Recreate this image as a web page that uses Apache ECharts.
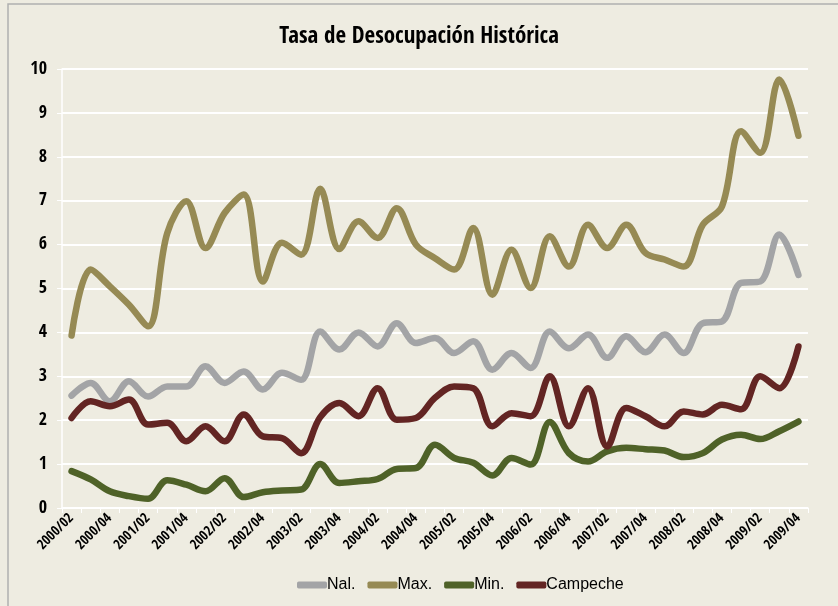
<!DOCTYPE html>
<html>
<head>
<meta charset="utf-8">
<script src="https://cdn.jsdelivr.net/npm/echarts@6/dist/echarts.min.js"></script>
<style>
html,body{margin:0;padding:0;background:#EEECE1;}
#c{width:838px;height:606px;}
</style>
</head>
<body>
<div id="c"></div>
<script>
const categories = ['2000/02','2000/03','2000/04','2001/01','2001/02','2001/03','2001/04','2002/01','2002/02','2002/03','2002/04','2003/01','2003/02','2003/03','2003/04','2004/01','2004/02','2004/03','2004/04','2005/01','2005/02','2005/03','2005/04','2006/01','2006/02','2006/03','2006/04','2007/01','2007/02','2007/03','2007/04','2008/01','2008/02','2008/03','2008/04','2009/01','2009/02','2009/03','2009/04'];
const nal = [2.56,2.85,2.43,2.89,2.54,2.77,2.77,3.23,2.85,3.11,2.70,3.08,2.92,4.02,3.61,4.00,3.68,4.21,3.76,3.87,3.53,3.80,3.15,3.53,3.19,4.02,3.64,3.95,3.42,3.91,3.55,3.95,3.53,4.21,4.25,5.13,5.16,6.23,5.31];
const maxv = [3.93,5.43,5.05,4.63,4.14,6.26,6.99,5.92,6.72,7.14,5.16,6.04,5.77,7.27,5.90,6.53,6.15,6.83,6.00,5.69,5.43,6.38,4.86,5.88,5.01,6.19,5.50,6.45,5.92,6.45,5.81,5.66,5.50,6.45,6.87,8.58,8.09,9.76,8.48];
const minv = [0.84,0.65,0.38,0.27,0.21,0.63,0.53,0.38,0.68,0.25,0.36,0.40,0.42,1.00,0.57,0.61,0.66,0.89,0.91,1.44,1.14,1.03,0.74,1.14,0.99,1.96,1.25,1.06,1.29,1.37,1.34,1.31,1.16,1.25,1.56,1.67,1.57,1.75,1.97];
const campeche = [2.05,2.43,2.32,2.47,1.90,1.94,1.52,1.86,1.52,2.13,1.63,1.59,1.25,2.07,2.39,2.09,2.73,2.01,2.05,2.51,2.77,2.73,1.86,2.16,2.09,3.00,1.86,2.73,1.40,2.28,2.09,1.86,2.20,2.13,2.35,2.25,3.00,2.73,3.68];
const seriesNames = ['Nal.','Max.','Min.','Campeche'];
const colors = ['#A3A4A6','#968A54','#4F6228','#632523'];

const chart = echarts.init(document.getElementById('c'), null, {renderer:'canvas'});
const font = "'Liberation Sans Narrow','Open Sans Condensed','Liberation Sans',sans-serif";
const legendFont = "'Liberation Sans',sans-serif";
const datas = [nal, maxv, minv, campeche];
chart.setOption({
  backgroundColor:'#EEECE1',
  animation:false,
  title:{text:'Tasa de Desocupación Histórica', left:'center', top:20,
    textStyle:{fontFamily:font, fontSize:23, fontWeight:'bold', color:'#000'}},
  graphic:[{type:'rect', shape:{x:8,y:4,width:900,height:700}, style:{fill:'none', stroke:'#B0B0B0', lineWidth:1.5}, silent:true}],
  grid:{left:62, right:30, top:69, bottom:98},
  legend:{bottom:8, left:292, itemWidth:30, itemHeight:7, itemGap:12,
    data:seriesNames.map(n=>({name:n, icon:'roundRect'})),
    textStyle:{fontFamily:legendFont, fontSize:16, fontWeight:'normal', color:'#000', padding:[0,0,0,-5]}},
  xAxis:{type:'category', data:categories, boundaryGap:true,
    axisLine:{lineStyle:{color:'#FFFFFF', width:1.5}},
    axisTick:{show:true, interval:0, length:5, lineStyle:{color:'#FFFFFF'}},
    axisLabel:{interval:1, rotate:45, fontFamily:font, fontSize:14, fontWeight:'bold', color:'#000', margin:8},
    splitLine:{show:false}},
  yAxis:{type:'value', min:0, max:10, interval:1,
    axisLine:{show:true, lineStyle:{color:'#FFFFFF', width:1.5}},
    axisTick:{show:true, length:5, lineStyle:{color:'#FFFFFF'}},
    axisLabel:{fontFamily:font, fontSize:18, fontWeight:'bold', color:'#000', margin:15},
    splitLine:{lineStyle:{color:'#FFFFFF', width:2}}},
  series: seriesNames.map((n,i)=>({name:n, type:'line', data:datas[i], smooth:0.35, symbol:'none',
    color:colors[i], lineStyle:{width:6.5, color:colors[i], cap:'round', join:'round'}}))
});
</script>
</body>
</html>
